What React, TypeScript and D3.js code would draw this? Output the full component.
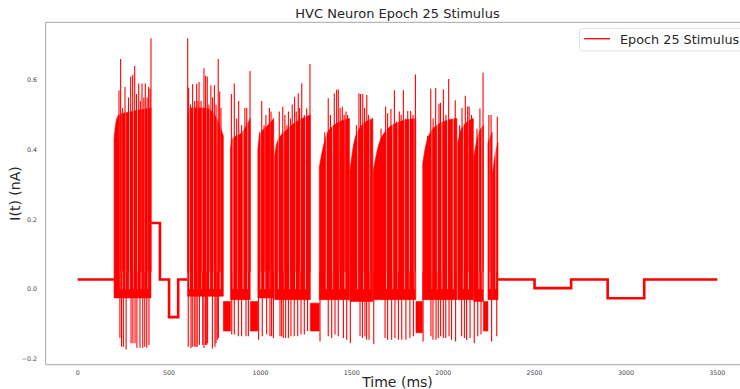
import React from 'react';
import * as d3 from 'd3';

const W = 740;
const H = 389;

const xTicks = [0, 500, 1000, 1500, 2000, 2500, 3000, 3500];
const yTicks = [-0.2, 0.0, 0.2, 0.4, 0.6];

// flat parts of the stimulus (ms, ms, nA)
const stepStart = [0, 400, 450, 500, 550, 2300, 2500, 2700, 2900, 3100];
const stepEnd = [200, 450, 500, 550, 600, 2500, 2700, 2900, 3100, 3500];
const stepLevel = [0.028, 0.19, 0.028, -0.08, 0.028, 0.028, 0.003, 0.028, -0.026, 0.028];

// dense oscillation bands: bottom level and top envelope [ms, nA]
const bandLow = [-0.025, -0.02, -0.03, -0.025, -0.03, -0.03, -0.035, -0.03, -0.03, -0.03, -0.035, -0.03, -0.03];
const bandTop: [number, number][][] = [
  [[199, 0.43], [210, 0.48], [225, 0.5], [300, 0.51], [401, 0.52]],
  [[602, 0.5], [620, 0.52], [700, 0.52], [760, 0.49], [797, 0.44]],
  [[836, 0.4], [845, 0.43], [900, 0.45], [944, 0.49]],
  [[986, 0.4], [995, 0.44], [1040, 0.47], [1073, 0.49]],
  [[1078, 0.38], [1090, 0.42], [1150, 0.46], [1273, 0.5]],
  [[1322, 0.35], [1340, 0.4], [1380, 0.46], [1487, 0.49]],
  [[1490, 0.34], [1505, 0.4], [1540, 0.46], [1615, 0.49]],
  [[1618, 0.34], [1640, 0.4], [1680, 0.45], [1760, 0.48], [1850, 0.49]],
  [[1888, 0.36], [1900, 0.4], [1930, 0.45], [2000, 0.48], [2075, 0.49]],
  [[2080, 0.42], [2100, 0.46], [2165, 0.49]],
  [[2168, 0.38], [2185, 0.43], [2220, 0.47]],
  [[2245, 0.42], [2268, 0.45]],
  [[2270, 0.33], [2285, 0.39], [2300, 0.42]],
];

// hyperpolarised dense segments
const dipStart = [797, 945, 1273, 1851, 2220];
const dipEnd = [836, 986, 1322, 1886, 2245];
const dipHigh = [-0.035, -0.035, -0.04, -0.035, -0.035];
const dipLow = [-0.12, -0.12, -0.12, -0.125, -0.12];

// brief pauses (thin white stripes) inside the bands
const gapT = [
  232, 244, 262, 283, 305, 327, 346, 365, 384,
  612, 634, 656, 680, 704, 722, 742, 762, 780,
  850, 876, 905, 930,
  1002, 1024, 1052,
  1098, 1128, 1160, 1192, 1218, 1246,
  1360, 1395, 1430, 1462,
  1532, 1565, 1598,
  1690, 1724, 1752, 1790, 1815, 1840,
  1938, 1968, 1993, 2024, 2055,
  2110, 2138,
  2195, 2212,
  2256, 2288,
];

// upward spikes
const peakT = [
  226, 235, 246, 259, 278, 290, 301, 312, 322, 334, 343, 352, 362, 370, 380, 388, 396, 401,
  602, 607, 617, 629, 640, 651, 658, 664, 675, 691, 700, 709, 718, 729, 738, 748, 757, 769, 777, 784,
  841, 857, 870, 881, 897, 915, 925, 943,
  996, 1007, 1020, 1030, 1049, 1058, 1066,
  1103, 1122, 1134, 1145, 1153, 1165, 1174, 1187, 1196, 1207, 1214, 1226, 1240, 1253, 1271,
  1352, 1371, 1383, 1404, 1417, 1426, 1436, 1448, 1458, 1468, 1477,
  1525, 1539, 1548, 1560, 1570, 1582, 1592, 1605,
  1660, 1685, 1696, 1714, 1733, 1745, 1760, 1770, 1782, 1795, 1806, 1822, 1835, 1848,
  1915, 1932, 1945, 1959, 1977, 1985, 2001, 2015, 2030, 2045, 2066,
  2090, 2103, 2121, 2134, 2142, 2155,
  2185, 2201, 2218,
  2250, 2262, 2296,
];
const peakV = [
  0.57, 0.66, 0.52, 0.58, 0.55, 0.61, 0.615, 0.64, 0.56, 0.59, 0.54, 0.59, 0.55, 0.59, 0.55, 0.58, 0.575, 0.72,
  0.72, 0.578, 0.53, 0.588, 0.54, 0.589, 0.54, 0.594, 0.54, 0.634, 0.612, 0.61, 0.53, 0.585, 0.55, 0.585, 0.53, 0.66, 0.567, 0.52,
  0.56, 0.59, 0.49, 0.54, 0.47, 0.52, 0.52, 0.626,
  0.45, 0.54, 0.47, 0.5, 0.52, 0.51, 0.47,
  0.51, 0.523, 0.5, 0.47, 0.51, 0.49, 0.53, 0.552, 0.51, 0.562, 0.52, 0.591, 0.5, 0.518, 0.646,
  0.45, 0.548, 0.5, 0.562, 0.572, 0.573, 0.52, 0.523, 0.5, 0.51, 0.5,
  0.47, 0.562, 0.56, 0.56, 0.52, 0.557, 0.5, 0.48,
  0.46, 0.524, 0.505, 0.517, 0.571, 0.48, 0.51, 0.5, 0.571, 0.49, 0.511, 0.511, 0.5, 0.616,
  0.44, 0.575, 0.49, 0.577, 0.532, 0.535, 0.573, 0.5, 0.603, 0.48, 0.542,
  0.47, 0.52, 0.555, 0.524, 0.524, 0.5,
  0.46, 0.518, 0.621,
  0.5, 0.5, 0.495,
];

// downward spikes
const troughT = [
  231, 240, 250, 265, 292, 302, 314, 324, 341, 356, 367, 378, 390,
  605, 620, 627, 638, 647, 654, 666, 684, 691, 700, 706, 711, 737, 751, 757, 764, 770,
  843, 857, 879, 897, 921, 934,
  990, 1010, 1034, 1052, 1061, 1071,
  1107, 1116, 1125, 1138, 1153, 1167, 1185, 1204, 1222, 1240, 1258,
  1326, 1371, 1390, 1408, 1426, 1454, 1472,
  1492, 1545, 1558, 1572, 1581, 1594,
  1620, 1682, 1696, 1718, 1736, 1755, 1773, 1796, 1818, 1837,
  1890, 1933, 1944, 1961, 1973, 1986, 2001, 2014, 2032, 2046, 2068,
  2101, 2116, 2128, 2147,
  2170, 2189, 2207,
  2265, 2293,
];
const troughV = [
  -0.14, -0.165, -0.165, -0.173, -0.155, -0.155, -0.155, -0.168, -0.168, -0.168, -0.165, -0.168, -0.16,
  -0.165, -0.169, -0.165, -0.165, -0.165, -0.165, -0.16, -0.16, -0.169, -0.16, -0.16, -0.155, -0.17, -0.165, -0.155, -0.145, -0.14,
  -0.13, -0.13, -0.135, -0.135, -0.135, -0.135,
  -0.145, -0.135, -0.13, -0.135, -0.135, -0.14,
  -0.135, -0.135, -0.14, -0.14, -0.14, -0.135, -0.135, -0.135, -0.13, -0.13, -0.12,
  -0.15, -0.135, -0.14, -0.13, -0.135, -0.14, -0.145,
  -0.155, -0.135, -0.14, -0.135, -0.145, -0.145,
  -0.158, -0.14, -0.145, -0.145, -0.14, -0.145, -0.145, -0.145, -0.14, -0.135,
  -0.15, -0.135, -0.145, -0.145, -0.14, -0.135, -0.14, -0.14, -0.135, -0.145, -0.15,
  -0.135, -0.14, -0.145, -0.14,
  -0.155, -0.135, -0.13,
  -0.15, -0.135,
];

const FONT = 'DejaVu Sans, Verdana, sans-serif';
const RED = '#ff0000';

export default function App() {
  const x = d3.scaleLinear().domain([-175, 3675]).range([45.7, 749.3]);
  const y = d3.scaleLinear().domain([-0.2166, 0.7656]).range([364.7, 22.3]);

  const stepGroups: [number, number][][] = [];
  stepStart.forEach((s, i) => {
    const pts: [number, number][] = [[s, stepLevel[i]], [stepEnd[i], stepLevel[i]]];
    if (i > 0 && stepEnd[i - 1] === s) stepGroups[stepGroups.length - 1].push(...pts);
    else stepGroups.push(pts);
  });
  const line = d3.line<[number, number]>().x((d) => x(d[0])).y((d) => y(d[1]));

  const bandPaths = bandTop.map((pts, i) =>
    d3
      .area<[number, number]>()
      .x((d) => x(d[0]))
      .y0(y(bandLow[i]))
      .y1((d) => y(d[1]))
      .curve(d3.curveMonotoneX)(pts)
  );

  const dipPaths = dipStart.map((s, i) =>
    d3
      .area<number>()
      .x((d) => x(d))
      .y0(y(dipLow[i]))
      .y1(y(dipHigh[i]))([s, dipEnd[i]])
  );

  const spikeBase = 0.05;

  return (
    <svg
      width={W}
      height={H}
      style={{ position: 'absolute', left: 0, top: 0, background: '#fff' }}
      fontFamily={FONT}
    >
      <defs>
        <clipPath id="plot">
          <rect x={45.7} y={22.3} width={703.6} height={342.4} />
        </clipPath>
      </defs>
      <rect width={W} height={H} fill="#fff" />

      <g clipPath="url(#plot)">
        {bandPaths.map((d, i) => (
          <path key={'b' + i} d={d || ''} fill={RED} stroke={RED} strokeWidth={0.6} />
        ))}
        {dipPaths.map((d, i) => (
          <path key={'dp' + i} d={d || ''} fill={RED} stroke={RED} strokeWidth={0.6} />
        ))}
        {gapT.map((t, i) => (
          <line
            key={'g' + i}
            x1={x(t)}
            x2={x(t)}
            y1={y(0.6)}
            y2={y(0.0)}
            stroke="#fff"
            strokeOpacity={0.85}
            strokeWidth={0.8}
          />
        ))}
        {peakT.map((t, i) => (
          <line
            key={'p' + i}
            x1={x(t)}
            x2={x(t)}
            y1={y(spikeBase)}
            y2={y(peakV[i])}
            stroke={RED}
            strokeWidth={1.1}
          />
        ))}
        {troughT.map((t, i) => (
          <line
            key={'t' + i}
            x1={x(t)}
            x2={x(t)}
            y1={y(spikeBase)}
            y2={y(troughV[i])}
            stroke={RED}
            strokeWidth={1.1}
          />
        ))}
        {stepGroups.map((g, i) => (
          <path key={'s' + i} d={line(g) || ''} fill="none" stroke={RED} strokeWidth={2.6} />
        ))}
      </g>

      {/* spines */}
      <line x1={45.7} x2={45.7} y1={22.3} y2={364.7} stroke="#a6a6a6" strokeWidth={1} />
      <line x1={45.7} x2={W} y1={22.3} y2={22.3} stroke="#a6a6a6" strokeWidth={1} />
      <line x1={45.7} x2={W} y1={364.7} y2={364.7} stroke="#a6a6a6" strokeWidth={1} />

      {xTicks.map((t) => (
        <text key={'xt' + t} x={x(t)} y={374.5} fontSize={6.3} fill="#444" textAnchor="middle">
          {t}
        </text>
      ))}
      {yTicks.map((v) => (
        <text key={'yt' + v} x={37} y={y(v) + 2.2} fontSize={6.3} fill="#444" textAnchor="end">
          {v < 0 ? '\u2212' + Math.abs(v).toFixed(1) : v.toFixed(1)}
        </text>
      ))}

      <text x={397.5} y={18} fontSize={13} fill="#262626" textAnchor="middle">
        HVC Neuron Epoch 25 Stimulus
      </text>
      <text x={397.5} y={387} fontSize={14} fill="#262626" textAnchor="middle">
        Time (ms)
      </text>
      <text
        transform={`translate(19.5,193.5) rotate(-90)`}
        fontSize={14}
        fill="#262626"
        textAnchor="middle"
      >
        I(t) (nA)
      </text>

      {/* legend */}
      <rect x={579.5} y={28.5} width={180} height={22.5} rx={2.5} fill="#fff" stroke="#dcdcdc" strokeWidth={0.8} />
      <line x1={584} x2={610} y1={38.7} y2={38.7} stroke={RED} strokeWidth={1.3} />
      <text x={620} y={43.5} fontSize={12.8} fill="#262626">
        Epoch 25 Stimulus
      </text>
    </svg>
  );
}
